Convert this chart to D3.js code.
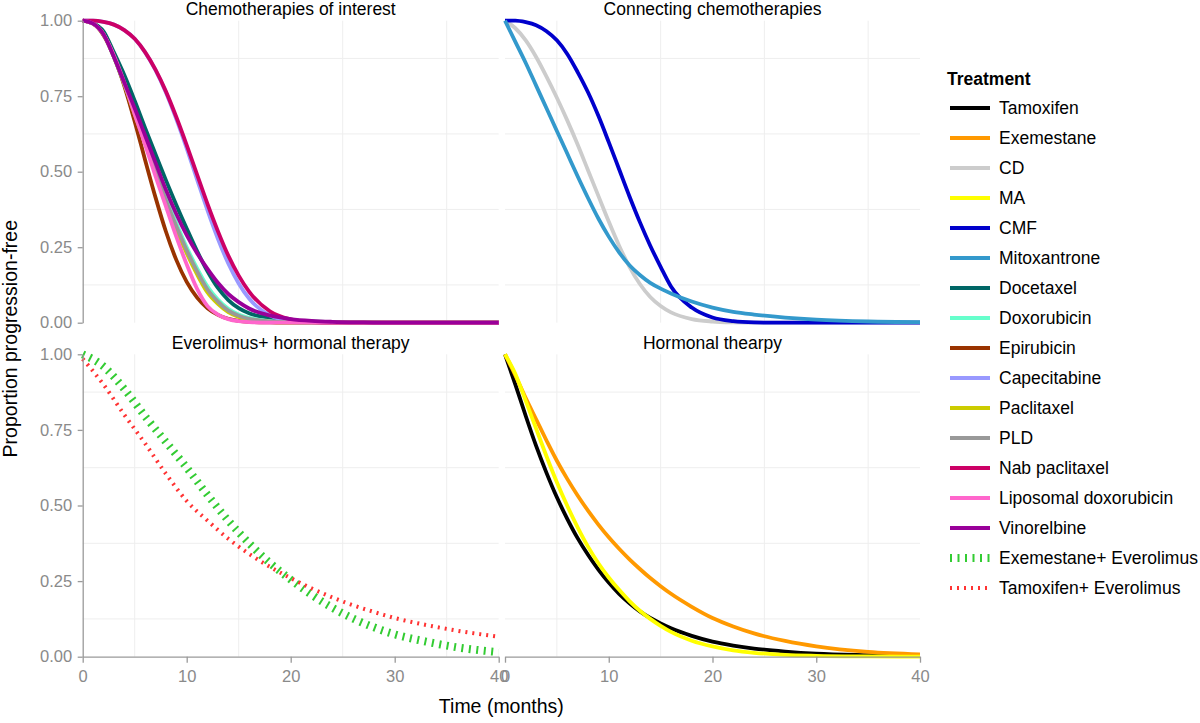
<!DOCTYPE html>
<html><head><meta charset="utf-8">
<script src="https://cdn.jsdelivr.net/npm/d3@7"></script>
<style>
body{margin:0;background:#fff;}
svg{display:block;font-family:"Liberation Sans", Arial, Helvetica, sans-serif;}
</style>
</head><body>
<svg id="chart" width="1200" height="723"></svg>
<script>
// ---------------- DATA ----------------
const months      = [0,1,2,3,4,5,6,7,8,9,10,11,12,13,14,15,16,18,20,22,24,27,30,35,40];
const monthsEvero = [0,2,4,6,8,10,12,14,16,18,20,22,24,26,28,30,33,36,40];

const treatments = ["Tamoxifen","Exemestane","CD","MA","CMF","Mitoxantrone","Docetaxel","Doxorubicin",
  "Epirubicin","Capecitabine","Paclitaxel","PLD","Nab paclitaxel","Liposomal doxorubicin","Vinorelbine",
  "Exemestane+ Everolimus","Tamoxifen+ Everolimus"];

const panelTitles = ["Chemotherapies of interest","Connecting chemotherapies","Everolimus+ hormonal therapy","Hormonal thearpy"];
const xTicks = [0,10,20,30,40];
const yTicks = [0,0.25,0.5,0.75,1];
const xMinor = [5,15,25,35];
const yMinor = [0.125,0.375,0.625,0.875];

// Hormonal therapy
const tamoxifen   = [1,0.90,0.796,0.697,0.608,0.527,0.456,0.392,0.337,0.288,0.245,0.208,0.177,0.150,0.128,0.110,0.094,0.069,0.050,0.037,0.027,0.017,0.010,0.005,0.002];
const exemestane  = [1,0.93,0.855,0.785,0.715,0.648,0.588,0.533,0.483,0.437,0.395,0.357,0.322,0.290,0.260,0.233,0.208,0.165,0.128,0.100,0.077,0.052,0.034,0.016,0.008];
const ma          = [1,0.935,0.846,0.754,0.663,0.577,0.499,0.428,0.364,0.309,0.262,0.221,0.184,0.152,0.125,0.102,0.082,0.053,0.034,0.021,0.013,0.006,0.003,0.001,0];
// Connecting chemotherapies
const cd          = [1,0.975,0.935,0.88,0.815,0.745,0.67,0.59,0.505,0.42,0.335,0.255,0.185,0.128,0.085,0.055,0.034,0.012,0.004,0.001,0,0,0,0,0];
const cmf         = [1,1,0.995,0.985,0.965,0.935,0.89,0.83,0.763,0.685,0.598,0.508,0.418,0.333,0.255,0.185,0.12,0.05,0.017,0.005,0.001,0,0,0,0];
const mitoxantrone= [1,0.93,0.86,0.785,0.71,0.635,0.56,0.485,0.413,0.345,0.285,0.233,0.19,0.158,0.132,0.113,0.097,0.07,0.05,0.036,0.027,0.017,0.010,0.004,0.002];
// Chemotherapies of interest
const docetaxel   = [1,0.992,0.965,0.895,0.82,0.735,0.645,0.558,0.472,0.39,0.312,0.237,0.17,0.115,0.075,0.048,0.031,0.016,0.008,0.004,0.002,0.001,0,0,0];
const doxorubicin = [1,0.99,0.955,0.88,0.79,0.70,0.605,0.51,0.415,0.33,0.25,0.18,0.12,0.077,0.046,0.027,0.016,0.005,0.002,0,0,0,0,0,0];
const epirubicin  = [1,0.99,0.952,0.882,0.784,0.666,0.539,0.415,0.302,0.208,0.135,0.083,0.048,0.026,0.013,0.006,0.003,0.001,0,0,0,0,0,0,0];
const capecitabine= [1,1,0.996,0.987,0.969,0.94,0.895,0.836,0.762,0.674,0.577,0.474,0.372,0.278,0.196,0.13,0.08,0.024,0.005,0.001,0,0,0,0,0];
const paclitaxel  = [1,0.99,0.955,0.88,0.79,0.69,0.595,0.495,0.40,0.31,0.23,0.16,0.10,0.062,0.035,0.019,0.01,0.003,0,0,0,0,0,0,0];
const pld         = [1,0.99,0.955,0.88,0.79,0.695,0.60,0.50,0.405,0.32,0.24,0.17,0.11,0.07,0.04,0.023,0.013,0.004,0.001,0,0,0,0,0,0];
const nabPaclitaxel=[1,1,0.996,0.987,0.969,0.94,0.896,0.838,0.766,0.681,0.588,0.49,0.393,0.303,0.222,0.156,0.103,0.038,0.011,0.002,0,0,0,0,0];
const liposomalDox= [1,0.99,0.955,0.885,0.795,0.69,0.59,0.485,0.385,0.285,0.193,0.112,0.055,0.027,0.012,0.005,0.002,0,0,0,0,0,0,0,0];
const vinorelbine = [1,0.99,0.955,0.88,0.795,0.71,0.62,0.53,0.44,0.36,0.29,0.23,0.178,0.132,0.095,0.068,0.047,0.024,0.012,0.006,0.003,0.001,0,0,0];
// Everolimus + hormonal therapy
const exeEvero    = [1,0.96,0.885,0.795,0.71,0.625,0.535,0.45,0.375,0.31,0.255,0.205,0.162,0.126,0.097,0.074,0.05,0.031,0.015];
const tamEvero    = [0.985,0.9,0.8,0.705,0.605,0.515,0.45,0.39,0.34,0.297,0.26,0.226,0.196,0.17,0.148,0.128,0.105,0.086,0.066];

// ---------------- STYLES ----------------
const colors = {
  "Tamoxifen":"#000000","Exemestane":"#ff9900","CD":"#cccccc","MA":"#ffff00","CMF":"#0000cc",
  "Mitoxantrone":"#3399cc","Docetaxel":"#006666","Doxorubicin":"#66ffcc","Epirubicin":"#993300",
  "Capecitabine":"#9999ff","Paclitaxel":"#cccc00","PLD":"#999999","Nab paclitaxel":"#cc0066",
  "Liposomal doxorubicin":"#ff66cc","Vinorelbine":"#990099",
  "Exemestane+ Everolimus":"#33cc33","Tamoxifen+ Everolimus":"#ff3333"
};
const strokeStyle = {
  "Exemestane+ Everolimus":{w:8,dash:"2,5.5"},
  "Tamoxifen+ Everolimus":{w:4,dash:"2,5"}
};
const defaultStroke = {w:3.8,dash:null};

const series = [
  {name:"Tamoxifen",t:months,v:tamoxifen,panel:3},
  {name:"Exemestane",t:months,v:exemestane,panel:3},
  {name:"CD",t:months,v:cd,panel:1},
  {name:"MA",t:months,v:ma,panel:3},
  {name:"CMF",t:months,v:cmf,panel:1},
  {name:"Mitoxantrone",t:months,v:mitoxantrone,panel:1},
  {name:"Docetaxel",t:months,v:docetaxel,panel:0},
  {name:"Doxorubicin",t:months,v:doxorubicin,panel:0},
  {name:"Epirubicin",t:months,v:epirubicin,panel:0},
  {name:"Capecitabine",t:months,v:capecitabine,panel:0},
  {name:"Paclitaxel",t:months,v:paclitaxel,panel:0},
  {name:"PLD",t:months,v:pld,panel:0},
  {name:"Nab paclitaxel",t:months,v:nabPaclitaxel,panel:0},
  {name:"Liposomal doxorubicin",t:months,v:liposomalDox,panel:0},
  {name:"Vinorelbine",t:months,v:vinorelbine,panel:0},
  {name:"Exemestane+ Everolimus",t:monthsEvero,v:exeEvero,panel:2},
  {name:"Tamoxifen+ Everolimus",t:monthsEvero,v:tamEvero,panel:2}
];

// ---------------- LAYOUT ----------------
const svg = d3.select("#chart");
svg.append("rect").attr("width",1200).attr("height",723).attr("fill","#ffffff");

const cols = [{x0:82.7,x1:498.7},{x0:505,x1:920}];
const rows = [{y0:20.7,y1:322.7},{y0:354.3,y1:656.7}];
const gridColor = "#eeeeee";
const axisColor = "#9a9a9a";
const tickText = "#8a8a8a";

panelTitles.forEach((title,i) => {
  const c = cols[i%2], r = rows[Math.floor(i/2)];
  const x = d3.scaleLinear().domain([0,40]).range([c.x0,c.x1]);
  const y = d3.scaleLinear().domain([0,1]).range([r.y1,r.y0]);
  const g = svg.append("g");

  g.selectAll(".vx").data(xMinor).enter().append("line")
    .attr("x1",d=>x(d)).attr("x2",d=>x(d)).attr("y1",r.y0).attr("y2",r.y1)
    .attr("stroke",gridColor).attr("stroke-width",1);
  g.selectAll(".hy").data(yMinor).enter().append("line")
    .attr("x1",c.x0).attr("x2",c.x1).attr("y1",d=>y(d)).attr("y2",d=>y(d))
    .attr("stroke",gridColor).attr("stroke-width",1);

  svg.append("text").attr("x",(c.x0+c.x1)/2).attr("y",r.y0-5.5)
    .attr("text-anchor","middle").attr("font-size","17.5px").attr("fill","#000")
    .text(title);

  if (i%2===0) {
    const ax = svg.append("g").attr("transform",`translate(${c.x0},0)`)
      .call(d3.axisLeft(y).tickValues(yTicks).tickFormat(d3.format(".2f")).tickSize(5).tickSizeOuter(0).tickPadding(5.5));
    ax.select(".domain").attr("stroke",axisColor).attr("stroke-width",1.3);
    ax.selectAll(".tick line").attr("stroke",axisColor).attr("stroke-width",1.3);
    ax.selectAll(".tick text").attr("fill",tickText).attr("font-size","16.5px").attr("font-family","Liberation Sans, Arial, sans-serif");
  }
  if (Math.floor(i/2)===1) {
    const ax = svg.append("g").attr("transform",`translate(0,${r.y1})`)
      .call(d3.axisBottom(x).tickValues(xTicks).tickFormat(d3.format("d")).tickSize(6).tickSizeOuter(0).tickPadding(7.3));
    ax.select(".domain").attr("stroke",axisColor).attr("stroke-width",1.3);
    ax.selectAll(".tick line").attr("stroke",axisColor).attr("stroke-width",1.3);
    ax.selectAll(".tick text").attr("fill",tickText).attr("font-size","16.5px").attr("font-family","Liberation Sans, Arial, sans-serif");
  }

  const line = d3.line().x(d=>x(d[0])).y(d=>y(d[1])).curve(d3.curveMonotoneX);
  series.filter(s=>s.panel===i).forEach(s => {
    const st = strokeStyle[s.name] || defaultStroke;
    const pts = s.t.map((t,k)=>[t,s.v[k]]);
    const p = g.append("path").datum(pts).attr("d",line)
      .attr("fill","none").attr("stroke",colors[s.name]).attr("stroke-width",st.w)
      .attr("stroke-linejoin","round").attr("stroke-linecap","butt");
    if (st.dash) p.attr("stroke-dasharray",st.dash);
  });
});

svg.append("text").attr("x",(cols[0].x0+cols[1].x1)/2).attr("y",713)
  .attr("text-anchor","middle").attr("font-size","19.5px").attr("fill","#000").text("Time (months)");
svg.append("text").attr("transform",`translate(17,${(rows[0].y0+rows[1].y1)/2}) rotate(-90)`)
  .attr("text-anchor","middle").attr("font-size","19.5px").attr("fill","#000").text("Proportion progression-free");

const lg = svg.append("g");
lg.append("text").attr("x",947).attr("y",84.5).attr("font-size","17.5px").attr("font-weight","bold").attr("fill","#000").text("Treatment");
treatments.forEach((name,i) => {
  const yy = 108 + i*30;
  const st = strokeStyle[name] || defaultStroke;
  const l = lg.append("line").attr("x1",950).attr("x2",990).attr("y1",yy).attr("y2",yy)
    .attr("stroke",colors[name]).attr("stroke-width",st.w);
  if (st.dash) l.attr("stroke-dasharray",st.dash);
  lg.append("text").attr("x",999).attr("y",yy).attr("dy","0.35em").attr("font-size","17.5px").attr("fill","#000").text(name);
});
</script>
</body></html>
